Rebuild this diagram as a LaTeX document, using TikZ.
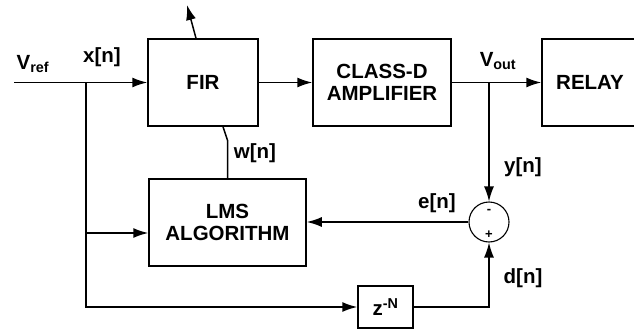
\documentclass[tikz,border=0pt]{standalone}
\usepackage{fontspec}
\setmainfont{Liberation Sans}
\usepackage{tikz}
\usetikzlibrary{arrows.meta}
\tikzset{
    dsp-block/.style = {draw, line width=1.5pt, rectangle, minimum height=87pt, font=\fontsize{20.5}{22}\selectfont\bfseries, align=center, inner sep=0pt},
    sig-label/.style = {font=\fontsize{20.5}{22}\selectfont\bfseries, inner sep=0pt},
    sum-node/.style = {draw, circle, line width=1.1pt, minimum size=40pt, inner sep=0pt},
    sig/.style = {line width=1.5pt, -{Latex[length=15pt,width=10pt]}},
    wire/.style = {line width=1.5pt},
}

\begin{document}
\begin{tikzpicture}[x=1pt, y=-1pt]
\useasboundingbox (0,0) rectangle (634,329);
% blocks
\node [dsp-block, minimum width=110pt] (fir) at (203,82.5) {FIR};
\node [dsp-block, minimum width=138pt] (amp) at (382,82.5) {CLASS-D\\AMPLIFIER};
\node [dsp-block, minimum width=110pt] (relay) at (597,82.5) {\hspace*{-14pt}RELAY};
\node [dsp-block, minimum width=157pt] (lms) at (227.5,222.5) {LMS\\ALGORITHM};
\node [sum-node] (sum) at (489,222) {};
\node [dsp-block, minimum width=55pt, minimum height=42pt] (delay) at (385.5,307) {z\textsuperscript{-N}};
\node [font=\fontsize{13}{13}\selectfont\bfseries] at (489,211) {-};
\node [font=\fontsize{13}{13}\selectfont\bfseries] at (489,235) {+};
% junctions and free ends
\coordinate (in) at (14,82.5);
\coordinate (xsplit) at (86,82.5);
\coordinate (ysplit) at (489,82.5);
\coordinate (tap) at (187,5);
% signal paths
\draw [sig] (in) -- (fir.west);
\draw [sig] (fir.east) -- (amp.west);
\draw [sig] (amp.east) -- (relay.west);
\draw [sig] ([xshift=-7pt]fir.north) -- (tap);
\draw [wire] (lms.north) -- ++(0,-38) -- ([xshift=20pt]fir.south);
\draw [sig] (xsplit) |- (lms.west |- 0,233);
\draw [sig] (xsplit) |- (delay.west);
\draw [sig] (ysplit) -- (sum.north);
\draw [sig] (delay.east) -| (sum.south);
\draw [sig] (sum.west) -- (lms.east |- sum.west);
% labels
\node [sig-label] at (33,64) {V\textsubscript{ref}};
\node [sig-label] at (102,57) {x[n]};
\node [sig-label] at (255,153) {w[n]};
\node [sig-label] at (498,61) {V\textsubscript{out}};
\node [sig-label] at (523,167) {y[n]};
\node [sig-label] at (437,203) {e[n]};
\node [sig-label] at (523,278) {d[n]};
\end{tikzpicture}
\end{document}
